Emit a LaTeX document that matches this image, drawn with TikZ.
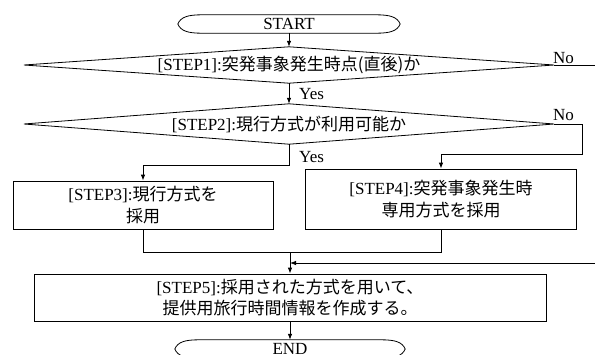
\documentclass[tikz,border=0pt]{standalone}
\usepackage{fontspec}
\setmainfont{Liberation Serif}
\newfontfamily\jp{Noto Sans CJK JP}
\usetikzlibrary{arrows.meta}
\begin{document}
\begin{tikzpicture}[x=1pt,y=-1pt,
  line/.style={draw=black,line width=0.8pt},
  arr/.style={line,-{Latex[length=6pt,width=4.5pt]}},
  txt/.style={font=\fontsize{17}{21.5}\selectfont, align=center, inner sep=0pt},
  box/.style={txt,draw=black,line width=0.8pt},
  lbl/.style={font=\fontsize{17}{21}\selectfont, inner sep=1pt},
]
\useasboundingbox (0,0) rectangle (595,354);
\clip (0,0) rectangle (595,354);
% terminals
\node[txt,minimum width=222pt,minimum height=18pt] (start) at (289,24) {START};
\node[txt,minimum width=230pt,minimum height=18pt] (fin) at (290,349) {END};
\foreach \n in {start,fin}{
  \draw[line] (\n.west) .. controls +(3pt,7pt) and +(-14pt,0pt) .. ([xshift=24pt]\n.north west)
    -- ([xshift=-24pt]\n.north east) .. controls +(14pt,0pt) and +(-3pt,7pt) .. (\n.east)
    .. controls +(-3pt,-7pt) and +(14pt,0pt) .. ([xshift=-24pt]\n.south east)
    -- ([xshift=24pt]\n.south west) .. controls +(-14pt,0pt) and +(3pt,-7pt) .. (\n.west);
}
% decisions
\node[txt,minimum width=530pt,minimum height=36pt] (d1) at (289,65) {[STEP1]:{\jp 突発事象発生時点(直後)か}};
\node[txt,minimum width=530pt,minimum height=40pt] (d2) at (289,124) {[STEP2]:{\jp 現行方式が利用可能か}};
\foreach \n in {d1,d2}{
  \draw[line] (\n.west) -- (\n.north) -- (\n.east) -- (\n.south) -- cycle;
}
% process boxes
\node[box,minimum width=260pt,minimum height=48pt] (s3) at (143,205) {[STEP3]:{\jp 現行方式を}\\{\jp 採用}};
\node[box,minimum width=271pt,minimum height=60pt] (s4) at (441,199) {[STEP4]:{\jp 突発事象発生時}\\{\jp 専用方式を採用}};
\node[box,minimum width=512pt,minimum height=47pt] (s5) at (290,297.5) {[STEP5]:{\jp 採用された方式を用いて、}\\{\jp 提供用旅行時間情報を作成する。}};
% helper coordinates
\coordinate (r1) at (595,65);
\coordinate (n2a) at (582,124);
\coordinate (n2b) at (582,154);
\coordinate (y2) at (289,165);
\coordinate (j) at (290,252);
\coordinate (r2) at (595,263);
\coordinate (k) at (290,263);
% connectors
\draw[arr] (start.south) -- (d1.north);
\draw[arr] (d1.south) -- (d2.north);
\draw[line] (d1.east) -- (r1);
\draw[arr] (d2.east) -- (n2a) -- (n2b) -- (s4.north |- n2b) -- (s4.north);
\draw[arr] (d2.south) -- (y2) -- (s3.north |- y2) -- (s3.north);
\draw[line] (s3.south) -- (s3.south |- j) -- (s4.south |- j) -- (s4.south);
\draw[arr] (j) -- (s5.north);
\draw[arr] (r2) -- (k);
\draw[arr] (s5.south) -- (fin.north);
% labels
\node[lbl,anchor=west] (yes1) at (298,94) {Yes};
\node[lbl,anchor=west] (yes2) at (298,157) {Yes};
\node[lbl,anchor=south west] (no1) at (552,65) {No};
\node[lbl,anchor=south west] (no2) at (552,122) {No};
\end{tikzpicture}
\end{document}
